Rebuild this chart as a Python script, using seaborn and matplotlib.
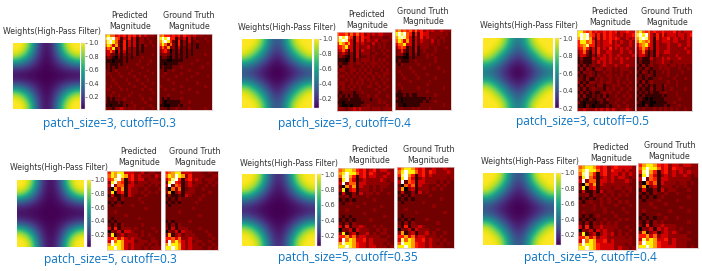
import numpy as np
import seaborn as sns
import matplotlib
matplotlib.use("Agg")
import matplotlib.pyplot as plt

captions = ["patch_size=3, cutoff=0.3", "patch_size=3, cutoff=0.4", "patch_size=3, cutoff=0.5",
            "patch_size=5, cutoff=0.3", "patch_size=5, cutoff=0.35", "patch_size=5, cutoff=0.4"]

# one quarter of each filter, edge -> centre
w_3_03 = [[1.0, 1.0, .85, .48, .16, .06], [1.0, .95, .72, .40, .14, .05], [.85, .72, .52, .28, .11, .04],
          [.48, .40, .28, .16, .07, .03], [.16, .14, .11, .07, .04, .02], [.06, .05, .04, .03, .02, .02]]
w_3_04 = [[1.0, 1.0, .97, .74, .42, .30], [1.0, .98, .86, .62, .36, .25], [.97, .86, .68, .46, .27, .18],
          [.74, .62, .46, .30, .17, .12], [.42, .36, .27, .17, .10, .08], [.30, .25, .18, .12, .08, .07]]
w_3_05 = [[1.0, 1.0, 1.0, .88, .64, .52], [1.0, 1.0, .94, .78, .56, .46], [1.0, .94, .80, .62, .45, .39],
          [.88, .78, .62, .46, .34, .29], [.64, .56, .45, .34, .26, .23], [.52, .46, .39, .29, .23, .20]]
w_5_03 = [[1.0, 1.0, .82, .40, .13, .06], [1.0, .94, .68, .32, .11, .05], [.82, .68, .46, .22, .08, .04],
          [.40, .32, .22, .12, .05, .03], [.13, .11, .08, .05, .03, .02], [.06, .05, .04, .03, .02, .02]]
w_5_035 = [[1.0, 1.0, .92, .58, .27, .16], [1.0, .97, .80, .48, .22, .13], [.92, .80, .58, .33, .16, .10],
           [.58, .48, .33, .19, .10, .08], [.27, .22, .16, .10, .07, .06], [.16, .13, .10, .08, .06, .06]]
w_5_04 = [[1.0, 1.0, .97, .72, .40, .30], [1.0, .98, .85, .60, .34, .24], [.97, .85, .65, .42, .24, .17],
          [.72, .60, .42, .27, .15, .12], [.40, .34, .24, .15, .10, .08], [.30, .24, .17, .12, .08, .07]]

# magnitudes, one character per cell (0 black ... a white)
levels = [0.0, 0.07, 0.155, 0.2, 0.3, 0.4, 0.5, 0.6, 0.72, 0.85, 1.0]
p_3_03 = ["78664545354535343332", "8a9a6514251413323222", "79a86315141413322322", "68747315141413132232",
          "46582415131313122222", "34640414131312122222", "24321313121312222232", "13210212121222322222",
          "11101112122223222322", "12111212222232223222", "12121222322222322222", "22123222223222223222",
          "23222322232223222232", "22322232222322232222", "22232222322232223222", "32223222232222322232",
          "22322322222322232222", "23222232322222322322", "22232222223222222232", "22322322232223222222",
          "21212223222222322322", "21111212223222232222", "11011112122322222322", "32213343232322322232"]
t_3_03 = ["67554545354434333232", "8a8a5514241413222322", "79a85215131412322232", "68636315131312122222",
          "46472314121312122222", "34530213121212222222", "23321212121212222322", "12210212121222222222",
          "11100111122222322222", "11011112222232222232", "12111222322222223222", "22122322222322222222",
          "22322222322222322222", "23222232222232222232", "22232222223222222222", "22222322222222322222",
          "32222222322222222322", "22322322222322222222", "22222222322222322222", "22232222222222222222",
          "21212222322222222222", "21011111222322222222", "11001112122222222222", "22212232222322222322"]
p_3_04 = ["65564646453434344333", "7a8a6515254423333223", "79a95415253433423332", "58757414243324232322",
          "45684414233423232322", "34641414143323223232", "23421314133322322322", "13210314122323222232",
          "11101313233323232322", "12112323323233323232", "21323322232323232322", "23322332323232223232",
          "32232323232332322332", "23323232323223232322", "32232322332323223232", "23322323232232322322",
          "32323232322332232232", "22322322322222322322", "21222212232222232222", "12121211222322322232",
          "21112111122212232222", "11011111112222232322", "21001011122322222232", "33323343433323332333"]
t_3_04 = ["67565646453434334333", "8a8a6515254423333232", "79a96414253433323322", "68747414243324232322",
          "46684414233323232222", "35651314133322322232", "23521314123222322222", "23310313122323222222",
          "11100212222322322222", "12111223222222322222", "21322222322232222222", "22222322223222232222",
          "23222232222222222322", "22322223222322222222", "22232222322222322222", "22222322222232222222",
          "23222222222322222222", "22322222322222222322", "21222222222322222222", "11121211222222322222",
          "21011111111212222222", "11011111112122322222", "21101111122222222322", "22322232322232222222"]
p_3_05 = ["88656454454545344544", "8a9a6525354544343445", "7a9a7415354545433434", "58867514344534343343",
          "56795514344434433343", "45752415343534343433", "34631415334433343343", "24421314343433433334",
          "13111423443434343433", "12111324343433343333", "21312322343334333433", "13132133323323233322",
          "21323212232322232232", "12123213223323232322", "22131132322322322322", "31213322323322323232",
          "13132213312232322322", "21312322213232232232", "13121211232322322322", "21311212131223223232",
          "12102112213222322322", "21011101211223223222", "11021011112122322322", "33433343434343233432"]
t_3_05 = ["78656454454445343444", "8a8a6425353444344345", "79a96415344534434343", "68767414344434433343",
          "46785414333433343343", "35752414333433333433", "34631314334433333343", "24421314233333433333",
          "13111423343433343333", "12111323343323333333", "21312322333233232322", "12132122323322232232",
          "21321212232322223222", "12123212222322322222", "22121122322223222322", "21312322222322322222",
          "13121212213222322222", "21211312212232222322", "12121211223222322222", "21211111121222322222",
          "12101011112222232222", "21011001111223222222", "11021011112122232222", "22322232323232322322"]

p_5_03 = ["5878844433423322", "687a874534333243", "569a614534423332", "38a6513423332333",
          "4a36614433323232", "2074714332232223", "3804514332323232", "1411314322232222",
          "2231322223222222", "1212122222322222", "2123222322222222", "2222222222232222",
          "2232222222222222", "2222232222222222", "2122222223222222", "1212222222222222",
          "2131322222322222", "4151333232222322", "0324144322322232", "3813423332323222",
          "5574643433222322", "4a68744423332332", "7a88743433323232", "88a8743433232333"]
t_5_03 = ["5678844433322322", "687a873533332233", "469a514534323332", "28a5413423322323",
          "4a26513433223232", "2063612332232222", "3703413332222322", "1311214322232222",
          "2121322222322222", "1212122223222222", "2122222222222222", "2222222232222222",
          "2222322222222222", "2222222222322222", "2222222222222222", "1212222322222222",
          "2131322222222222", "3141333222322222", "0324143322223222", "3713423332222322",
          "5564633433222232", "4a68643423322322", "7a88743433232232", "88a8743433322323"]
p_5_035 = ["6788754534534433", "78a8864535433343", "69a7514534433433", "38a6413433334323",
           "4a36614433333332", "2074714332323322", "3804513332323222", "1411314233232232",
           "2231322232222222", "1212122222322222", "2123222322222222", "2222232222223222",
           "2232222222322222", "2222222322222222", "2121222222222322", "1212122223222222",
           "2131322222222222", "4151334322323222", "0324143332232322", "3813413342323322",
           "5574634433332232", "4a68744534333322", "7a88754434333232", "88a8754434433323"]
t_5_035 = ["5788754533433433", "68a8864535433343", "59a7514534333333", "28a6413433333323",
           "4a26514433323232", "2064614332232322", "3703413332323222", "1411314232222222",
           "2121322223222222", "1212122222223222", "2122222322222222", "2222222222322222",
           "2232222222222222", "2222232222222322", "2122222222222222", "1212122232222222",
           "2131322222232222", "3151334322222222", "0324143332232222", "3713413342322322",
           "5574634433323222", "4968744534332322", "6a88754434323232", "88a8754434333222"]
p_5_04 = ["6788754534544443", "78a8864535443433", "69a7514534434343", "38a6413434344323",
          "4a36614434333432", "2074714333333322", "3804513332332332", "1411314233223232",
          "2231322323232322", "1212123232322222", "2123223232232322", "2322323222322232",
          "2222322322223222", "2322222323222322", "2121232222322222", "1212122322232322",
          "2131323232322222", "4151334333322322", "0324143433232232", "3813413434232322",
          "5574634433333232", "4a68744534333332", "7a88754444333232", "88a8754444343323"]
t_5_04 = ["5788754534434433", "68a8864535443333", "59a7514534343433", "28a6413434334323",
          "4a26514433333322", "2064614333233232", "3703413332323222", "1411314233222322",
          "2121322322322222", "1212123222222322", "2122232222322222", "2223222322222222",
          "2222322222232222", "2322222232222322", "2122232222222222", "1212122322322222",
          "2131323222222322", "3151334333222222", "0324143433232222", "3713413434322322",
          "5574634433333222", "4968744534333322", "6a88754434333222", "88a8754444333232"]

weights = [w_3_03, w_3_04, w_3_05, w_5_03, w_5_035, w_5_04]
predicted = [p_3_03, p_3_04, p_3_05, p_5_03, p_5_035, p_5_04]
truth = [t_3_03, t_3_04, t_3_05, t_5_03, t_5_035, t_5_04]

W, H = 702, 271
# pixel boxes (left, top, right, bottom) measured on the reference
w_box = [(12.5, 42.5, 79, 109), (241.7, 38.7, 310.7, 108.3), (482.7, 38, 552, 108.3),
         (17.3, 179.7, 84, 247), (241.7, 174.3, 314, 246.3), (482.7, 173, 552.7, 245)]
c_box = [(81, 42.5, 85, 109), (314.3, 38.7, 318.5, 108.3), (555, 38, 559.3, 108.3),
         (87, 179.7, 91, 247), (316.7, 174.3, 321, 246.3), (556, 173, 560.7, 245)]
p_box = [(104.5, 34, 157, 110), (336.7, 32.3, 391.7, 110.7), (577.3, 30, 634.7, 111),
         (107.3, 171, 161.3, 249.7), (338.3, 168.3, 393.7, 248.3), (578, 165, 636, 249.7)]
t_box = [(159, 33.5, 212, 110), (395, 29, 451, 110), (636.3, 30, 692.3, 110.7),
         (164.7, 171, 218.3, 249.7), (397, 166.7, 453.7, 248.3), (638.3, 163.3, 698, 248.3)]
w_title = [(52, 32), (287, 28), (529, 25), (59, 167.7), (289, 164), (529.7, 161.7)]
p_title = [(130, 21), (367, 20), (610, 17), (139, 157), (369.3, 155), (611, 153)]
t_title = [(189, 21), (423, 16.5), (667, 17), (195, 157), (428.3, 155), (669.3, 151)]
cap_pos = [(109, 123), (344, 123), (582, 122), (110, 259), (348.3, 258), (590.3, 258)]

sns.set_style("white")
fig = plt.figure(figsize=(W / 100, H / 100), dpi=100)


def add_ax(box):
    l, t, r, b = box
    return fig.add_axes([l / W, 1 - b / H, (r - l) / W, (b - t) / H])


def put(xy, s, **kw):
    fig.text(xy[0] / W, 1 - xy[1] / H, s, ha="center", va="center", **kw)


for i in range(6):
    # mirror the quarter into the whole filter
    q = np.array(weights[i])
    top = np.hstack([q, q[:, -2::-1]])
    full = np.vstack([top, top[-2::-1]])
    ax = add_ax(w_box[i])
    im = ax.imshow(full, cmap="viridis", interpolation="bicubic", aspect="auto", vmin=full.min(), vmax=1)
    ax.set_xticks([])
    ax.set_yticks([])
    for s in ax.spines.values():
        s.set_visible(False)
    cax = add_ax(c_box[i])
    cb = fig.colorbar(im, cax=cax)
    cb.set_ticks([0.2, 0.4, 0.6, 0.8, 1.0])
    cb.ax.tick_params(labelsize=4.8, length=1.5, width=0.4, pad=1, colors="#3a3a3a")
    cb.outline.set_linewidth(0.3)
    cb.outline.set_edgecolor("#dddddd")
    put(w_title[i], "Weights(High-Pass Filter)", fontsize=5.7, color="#333333")

    for grid, box, pos, name in [(predicted[i], p_box[i], p_title[i], "Predicted\nMagnitude"),
                                 (truth[i], t_box[i], t_title[i], "Ground Truth\nMagnitude")]:
        vals = np.array([[levels[int(c, 16)] for c in row] for row in grid])
        ax = add_ax(box)
        sns.heatmap(vals, cmap="hot", vmin=0, vmax=1, cbar=False, xticklabels=False, yticklabels=False, ax=ax)
        for s in ax.spines.values():
            s.set_visible(True)
            s.set_color("#d9c0c0")
            s.set_linewidth(0.5)
        put(pos, name, fontsize=5.7, color="#333333", linespacing=1.2)

    put(cap_pos[i], captions[i], fontsize=8.6, color="#0b74c4", family="Open Sans")

fig.savefig("out.png", dpi=100)
